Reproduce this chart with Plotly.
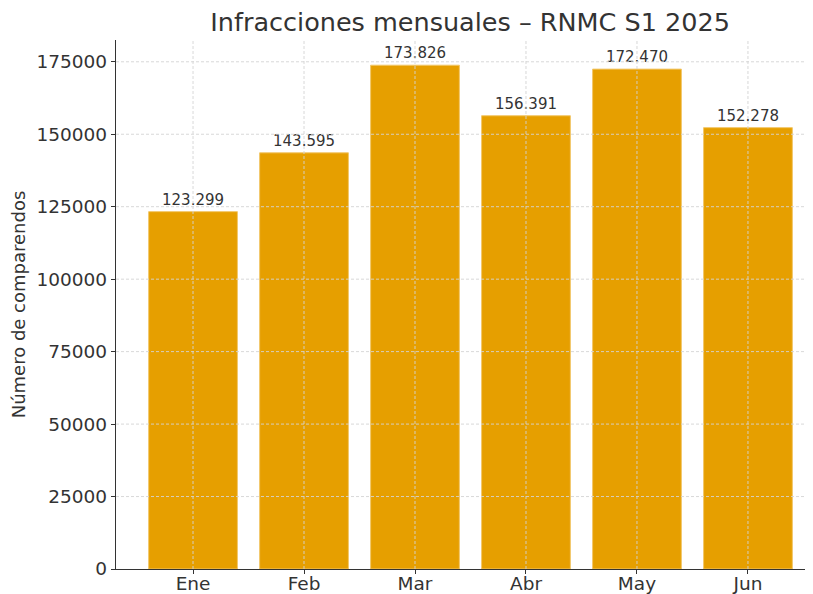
import plotly.graph_objects as go

months = ["Ene", "Feb", "Mar", "Abr", "May", "Jun"]
values = [123299, 143595, 173826, 156391, 172470, 152278]
y_ticks = [0, 25000, 50000, 75000, 100000, 125000, 150000, 175000]

labels = [f"{v:,}".replace(",", ".") for v in values]
font = "DejaVu Sans"

fig = go.Figure(go.Bar(
    x=list(range(len(months))), y=values, width=0.8,
    marker=dict(color="#E69F00", line=dict(color="#F2C76A", width=1)),
    text=labels, textposition="outside", cliponaxis=False,
    textfont=dict(family=font, size=15, color="#333333"),
))

grid = dict(color="#d4d4d4", width=0.9, dash="3px,2px")
shapes = []
for t in y_ticks[1:]:
    shapes.append(dict(type="line", xref="paper", yref="y", x0=0, x1=1, y0=t, y1=t,
                       line=grid, layer="above"))
for i in range(len(months)):
    shapes.append(dict(type="line", xref="x", yref="paper", x0=i, x1=i, y0=0, y1=1,
                       line=grid, layer="above"))

fig.update_layout(
    width=805, height=586,
    margin=dict(l=108, r=1, t=32, b=25, autoexpand=False),
    paper_bgcolor="white", plot_bgcolor="white",
    font=dict(family=font, color="#333333"),
    title=dict(text="Infracciones mensuales – RNMC S1 2025", x=0.574, xanchor="center",
               y=0.976, yanchor="middle", font=dict(family=font, size=25.5, color="#333333")),
    shapes=shapes,
    showlegend=False,
)
fig.update_xaxes(
    range=[-0.694, 5.577], tickmode="array", tickvals=list(range(len(months))), ticktext=months,
    showgrid=False, showline=True, linecolor="#333333", linewidth=1.3,
    ticks="outside", ticklen=4, tickcolor="#333333", zeroline=False, automargin=False,
    ticklabelstandoff=-6,
    tickfont=dict(family=font, size=18.5, color="#333333"),
)
fig.update_yaxes(
    range=[0, 182517], tickmode="array", tickvals=y_ticks, ticktext=[str(t) for t in y_ticks],
    showgrid=False, showline=True, linecolor="#333333", linewidth=1.3,
    ticks="outside", ticklen=4, tickcolor="#333333", zeroline=False, automargin=False,
    tickfont=dict(family=font, size=18.5, color="#333333"),
    title=dict(text="Número de comparendos", font=dict(family=font, size=18, color="#333333"), standoff=7),
)

fig.write_html("out.html")
